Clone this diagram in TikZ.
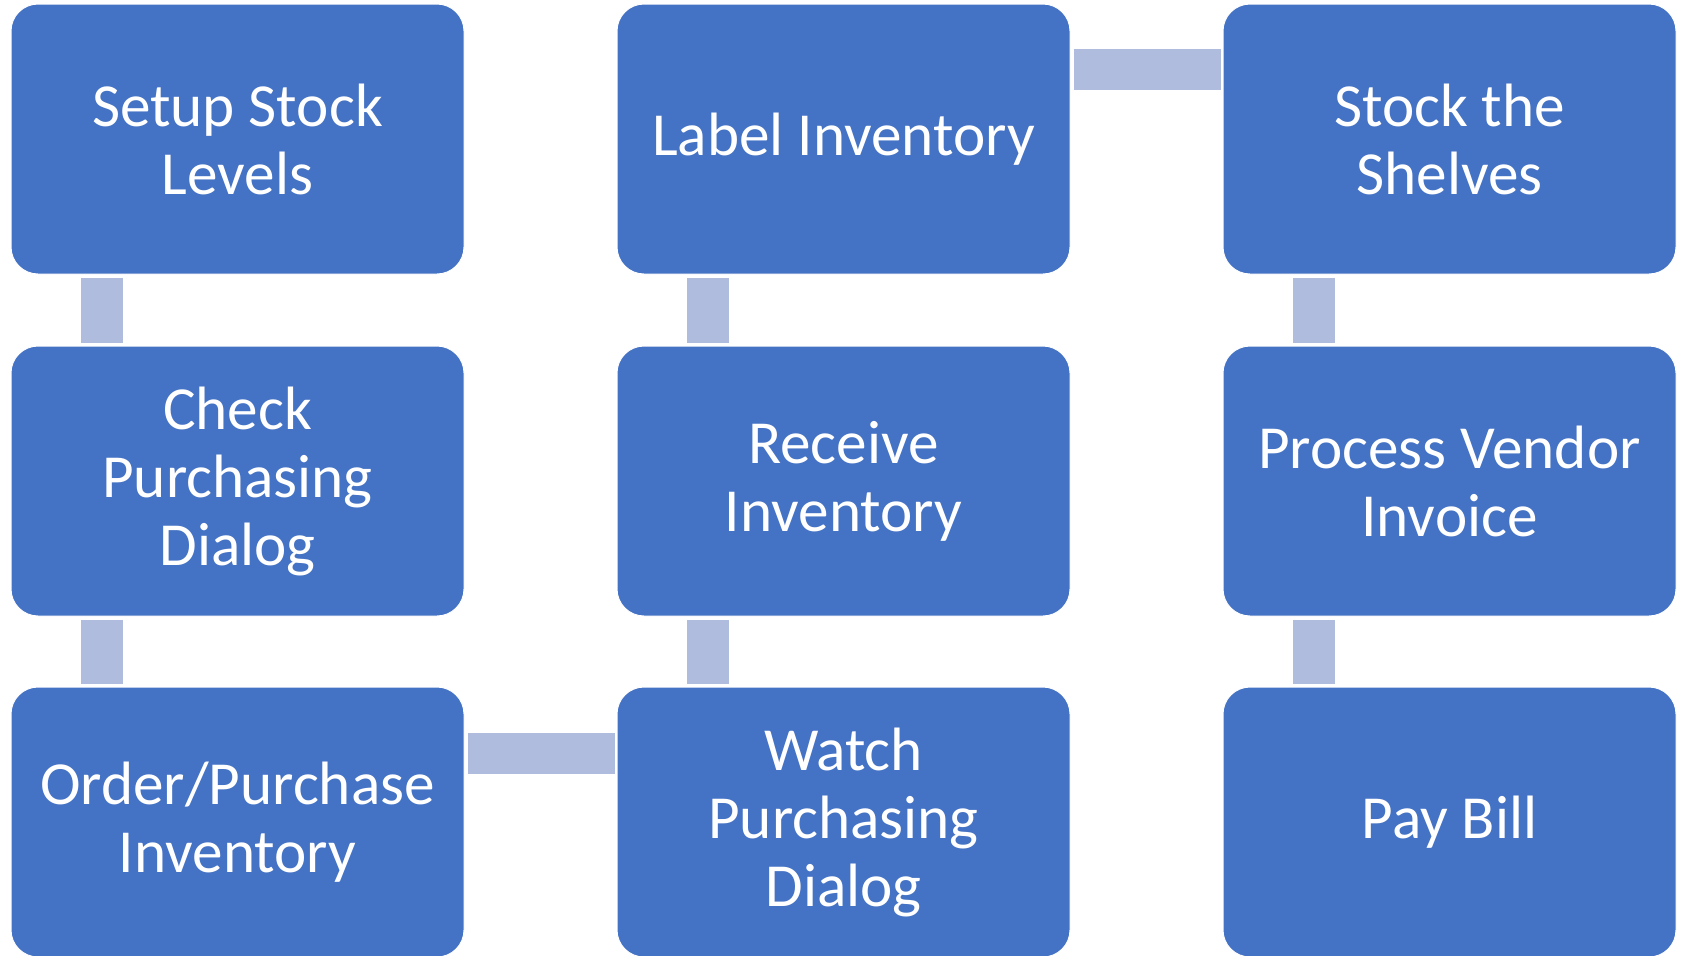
\documentclass[tikz,border=0pt]{standalone}
\usepackage{fontspec}
\setmainfont{Carlito}
\usetikzlibrary{calc}
\definecolor{boxblue}{RGB}{68,114,196}
\definecolor{linkblue}{RGB}{176,188,222}
\begin{document}
\begin{tikzpicture}[x=0.5pt,y=-0.5pt,
  stepbox/.style={draw=white, line width=0.5pt, fill=boxblue,
    rounded corners=13.5pt, minimum width=226.5pt, minimum height=135pt,
    inner sep=0pt, align=center, text=white,
    font=\fontsize{30.6pt}{34pt}\selectfont},
  vlink/.style={draw=linkblue, line width=21pt},
  hlink/.style={draw=linkblue, line width=20.5pt}]
\clip (0,0) rectangle (1686,955);
% process steps, three columns of three
\node[stepbox] (s1) at (237.5,139) {Setup Stock\\Levels};
\node[stepbox] (s2) at (237.5,481) {Check\\Purchasing\\Dialog};
\node[stepbox] (s3) at (237.5,822) {Order/Purchase\\Inventory};
\node[stepbox] (s4) at (843.5,822) {Watch\\Purchasing\\Dialog};
\node[stepbox] (s5) at (843.5,481) {Receive\\Inventory};
\node[stepbox] (s6) at (843.5,139) {Label Inventory};
\node[stepbox] (s7) at (1449.5,139) {Stock the\\Shelves};
\node[stepbox] (s8) at (1449.5,481) {Process Vendor\\Invoice};
\node[stepbox] (s9) at (1449.5,822) {Pay Bill};
% vertical links, near the left side of each column
\draw[vlink] ($(s1.south west)+(91,3)$) -- ($(s2.north west)+(91,-3)$);
\draw[vlink] ($(s2.south west)+(91,3)$) -- ($(s3.north west)+(91,-3)$);
\draw[vlink] ($(s4.north west)+(91,-3)$) -- ($(s5.south west)+(91,3)$);
\draw[vlink] ($(s5.north west)+(91,-3)$) -- ($(s6.south west)+(91,3)$);
\draw[vlink] ($(s7.south west)+(91,3)$) -- ($(s8.north west)+(91,-3)$);
\draw[vlink] ($(s8.south west)+(91,3)$) -- ($(s9.north west)+(91,-3)$);
% horizontal links, near the top of each row
\draw[hlink] ($(s3.north east)+(3,66.5)$) -- ($(s4.north west)+(-2,66.5)$);
\draw[hlink] ($(s6.north east)+(3,65.5)$) -- ($(s7.north west)+(-2,65.5)$);
\end{tikzpicture}
\end{document}
